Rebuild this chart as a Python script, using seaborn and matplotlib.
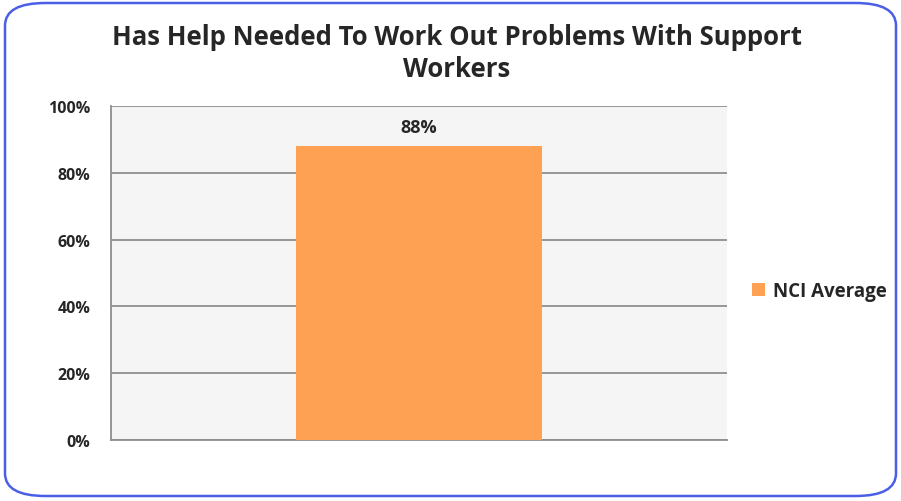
import pandas as pd
import seaborn as sns
import matplotlib.pyplot as plt
from matplotlib.patches import FancyBboxPatch
from matplotlib.ticker import PercentFormatter

# chart data
categories = ["NCI Average"]
values = [0.88]
bar_labels = ["88%"]
title = "Has Help Needed To Work Out Problems With Support\nWorkers"

df = pd.DataFrame({"group": categories, "value": values})

sns.set_style("white")
plt.rcParams['font.family'] = ['Open Sans', 'DejaVu Sans']

fig = plt.figure(figsize=(9.01, 5.02), dpi=100)
ax = fig.add_axes([111 / 901, 1 - 441 / 502, 616 / 901, 334 / 502])

# rounded blue frame round the whole chart
frame = FancyBboxPatch((5 / 901, 5 / 502), 891 / 901, 493 / 502,
                       boxstyle="round,pad=0,rounding_size=0.045",
                       transform=fig.transFigure, facecolor="none",
                       edgecolor="#4a5ee8", linewidth=1.8, zorder=10)
fig.patches.append(frame)

sns.barplot(data=df, x="group", y="value", hue="group", palette=["#FFA152"],
            saturation=1, width=0.4, linewidth=0, ax=ax, zorder=3, legend=True)

ax.set_facecolor("#F5F5F5")
ax.set_xlim(-0.5, 0.5)
ax.set_ylim(0, 1)
ax.set_yticks([0, 0.2, 0.4, 0.6, 0.8, 1.0])
ax.yaxis.set_major_formatter(PercentFormatter(1.0, decimals=0))
ax.grid(axis="y", color="#8f8f8f", linewidth=1.3, zorder=0)
ax.set_xticks([])
ax.set_xlabel("")
ax.set_ylabel("")
for side in ["top", "right"]:
    ax.spines[side].set_visible(False)
for side in ["left", "bottom"]:
    ax.spines[side].set_color("#8f8f8f")
    ax.spines[side].set_linewidth(1.3)
ax.tick_params(axis="y", length=5, width=1.3, color="#8f8f8f", pad=10,
               labelsize=11.5)
for lab in ax.get_yticklabels():
    lab.set_fontweight("bold")

for bar, text in zip(ax.patches, bar_labels):
    ax.annotate(text, (bar.get_x() + bar.get_width() / 2, bar.get_height()),
                xytext=(0, 7), textcoords="offset points", ha="center",
                va="bottom", fontsize=13, fontweight="bold")

fig.suptitle(title, x=0.507, y=0.952, fontsize=18.5, fontweight="bold",
             linespacing=1.25)

leg = ax.legend(loc="center left", bbox_to_anchor=(1.013, 0.445), frameon=False,
                handlelength=0.7, handleheight=0.7, handletextpad=0.4,
                prop={"weight": "bold", "size": 13.5})

fig.savefig("out.png", dpi=100)
